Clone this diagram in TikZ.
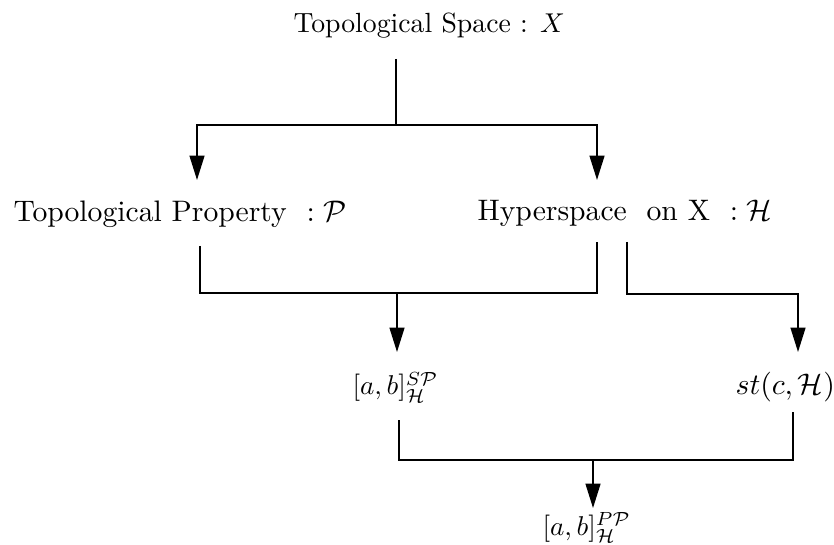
\documentclass[tikz,border=0pt]{standalone}
\usetikzlibrary{arrows.meta}
\begin{document}
\begin{tikzpicture}[x=0.3676pt,y=-0.3676pt,
  lbl/.style={inner sep=0pt,anchor=base west},
  big/.style={font=\fontsize{10.9}{13}\selectfont},
  conn/.style={line width=0.6pt},
  arr/.style={conn,-{Triangle[length=9pt,width=5.5pt]}}]
\useasboundingbox (0,0) rectangle (834,545);
% texts
\node[lbl,font=\fontsize{10.2}{12}\selectfont] (top) at (293,33) {Topological Space : $X$};
\node[lbl,big] (tp) at (13,222) {Topological Property\ \ $:\mathcal{P}$};
\node[lbl,big] (hs) at (477,221) {Hyperspace\ \ on X\ \ $:\mathcal{H}$};
\node[lbl] (sp) at (352,395) {$[a,b]^{S\mathcal{P}}_{\mathcal{H}}$};
\node[lbl,font=\fontsize{10.7}{13}\selectfont] (st) at (735,395) {$st(c,\mathcal{H})$};
\node[lbl] (pp) at (542,535) {$[a,b]^{P\mathcal{P}}_{\mathcal{H}}$};
% coordinates
\coordinate (t0) at (396,59);
\coordinate (tj) at (396,125);
\coordinate (tpIn) at (197,180);
\coordinate (hsIn) at (597,180);
\coordinate (tpOut) at (200,246);
\coordinate (hsOutL) at (597,242);
\coordinate (hsOutR) at (627,242);
\coordinate (mj) at (397,293);
\coordinate (spIn) at (397,352);
\coordinate (stIn) at (798,352);
\coordinate (spOut) at (399,420);
\coordinate (stOut) at (793,412);
\coordinate (bj) at (593,460);
\coordinate (ppIn) at (593,508);
% connectors
\draw[conn] (t0) -- (tj);
\draw[arr] (tj) -| (tpIn);
\draw[arr] (tj) -| (hsIn);
\draw[conn] (tpOut) |- (mj) -| (hsOutL);
\draw[arr] (mj) -- (spIn);
\draw[arr] (hsOutR) |- (798,294) -- (stIn);
\draw[conn] (spOut) |- (bj) -| (stOut);
\draw[arr] (bj) -- (ppIn);
\end{tikzpicture}
\end{document}
